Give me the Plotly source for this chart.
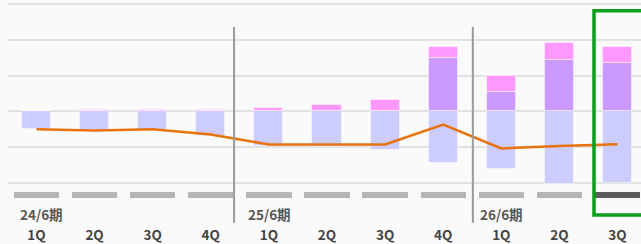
import plotly.graph_objects as go

# ---- data ----
quarters = ["1Q", "2Q", "3Q", "4Q", "1Q", "2Q", "3Q", "4Q", "1Q", "2Q", "3Q"]
periods = ["24/6期", "25/6期", "26/6期"]
period_start_idx = [0, 4, 8]
neg_values = [-50, -52, -52, -68, -97, -100, -108, -144, -162, -204, -200]
purple_values = [0, 0, 0, 0, 0, 0, 0, 150, 55, 144, 136]
pink_values = [0, 4, 4, 5, 9, 17, 31, 29, 44, 46, 43]
line_values = [-50, -54, -50, -65, -93, -93, -93, -37, -104, -97, -92]
highlight_idx = 10

x = list(range(len(quarters)))

LAV = "#ccccff"
PURPLE = "#cc99ff"
PINK = "#ff99ff"
ORANGE = "#e8730c"
FONT = "Noto Sans CJK JP, Noto Sans, sans-serif"

bar_line = dict(color="rgba(255,255,255,0.45)", width=1)

fig = go.Figure()
fig.add_bar(x=x, y=neg_values, marker=dict(color=LAV, line=bar_line), width=0.5)
fig.add_bar(x=x, y=purple_values, marker=dict(color=PURPLE, line=bar_line), width=0.5)
fig.add_bar(x=x, y=pink_values, marker=dict(color=PINK, line=bar_line), width=0.5)

# timeline strip under the chart
strip_colors = ["#5a5a5a" if i == highlight_idx else "#b5b5b5" for i in x]
fig.add_bar(x=x, y=[17] * len(x), base=[-243] * len(x), width=0.78,
            marker=dict(color=strip_colors, line=dict(width=0)))

fig.add_scatter(x=x, y=line_values, mode="lines",
                line=dict(color=ORANGE, width=2.5))

# quarter labels
fig.add_scatter(x=x, y=[-350] * len(x), mode="text", text=quarters,
                textfont=dict(family=FONT, size=13.5, color="#444444", weight="bold"),
                cliponaxis=False)

# period labels (first one kept clear of the left edge)
annotations = []
for k, (px, label) in enumerate(zip(period_start_idx, periods)):
    annotations.append(dict(x=px, y=-286, xref="x", yref="y", text=label,
                            showarrow=False, xshift=4.5 if k == 0 else 0.5,
                            font=dict(family=FONT, size=13.5, color="#555555",
                                      weight="bold")))

shapes = []
for xv in (3.40, 7.51):
    shapes.append(dict(type="line", xref="x", yref="y", x0=xv, x1=xv, y0=-312, y1=236,
                       line=dict(color="#9a9a9a", width=2), layer="above"))
shapes.append(dict(type="rect", xref="x", yref="y", x0=9.595, x1=10.7, y0=-290, y1=281,
                   line=dict(color="#0a9e1a", width=3.5), fillcolor="rgba(0,0,0,0)",
                   layer="above"))

fig.update_layout(
    width=641, height=244,
    margin=dict(l=8, r=0, t=0, b=0),
    paper_bgcolor="#fafafa", plot_bgcolor="#fafafa",
    barmode="relative", bargap=0,
    showlegend=False,
    shapes=shapes,
    annotations=annotations,
    xaxis=dict(range=[-0.4905, 10.404], showgrid=False, zeroline=False,
               showticklabels=False, fixedrange=True),
    yaxis=dict(range=[-371.2, 311.3], tickvals=[-200, -100, 0, 100, 200, 300],
               showticklabels=False, gridcolor="#e2e2e2", gridwidth=2,
               zeroline=False, fixedrange=True),
)

fig.write_html(
    "out.html",
    config={"displayModeBar": False},
    post_script="document.body.style.margin='0';document.body.style.overflow='hidden';"
                "document.body.style.background='#fafafa';",
)
